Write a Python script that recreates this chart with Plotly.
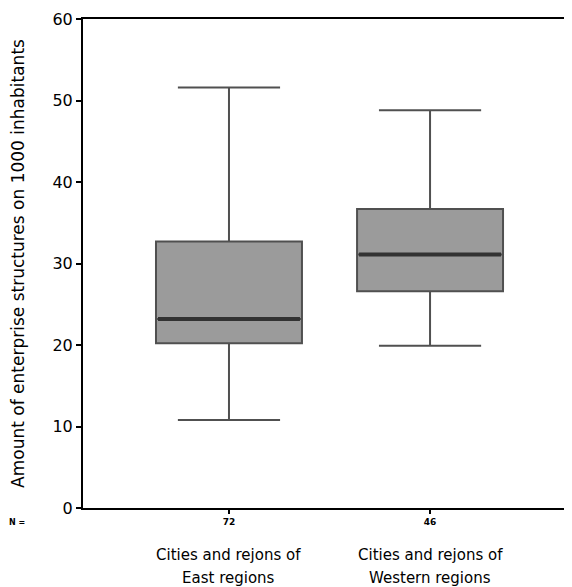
import plotly.graph_objects as go

positions = [0, 1]
n_labels = ["72", "46"]
categories = ["Cities and rejons of<br>East regions", "Cities and rejons of<br>Western regions"]
lower_whisker = [10.8, 19.9]
q1 = [20.2, 26.6]
median = [23.2, 31.1]
q3 = [32.7, 36.7]
upper_whisker = [51.6, 48.8]

box_width = 0.726
FONT = "DejaVu Sans"

fig = go.Figure()
fig.add_trace(go.Box(
    x=positions, q1=q1, median=median, q3=q3,
    lowerfence=lower_whisker, upperfence=upper_whisker,
    width=box_width, whiskerwidth=0.7,
    fillcolor="rgb(155,155,155)",
    line=dict(color="rgb(80,80,80)", width=2),
    boxpoints=False, showlegend=False, hoverinfo="skip",
))
for p, m in zip(positions, median):
    fig.add_trace(go.Scatter(
        x=[p - box_width / 2 + 0.01, p + box_width / 2 - 0.01], y=[m, m],
        mode="lines", line=dict(color="rgb(50,50,50)", width=4),
        showlegend=False, hoverinfo="skip",
    ))

line_y = [-0.096, -0.143]
for p, c in zip(positions, categories):
    for ly, part in zip(line_y, c.split("<br>")):
        fig.add_annotation(x=p, y=ly, xref="x", yref="paper", text=part,
                           showarrow=False, yanchor="middle", borderpad=0,
                           font=dict(family=FONT, size=15, color="black"))
fig.add_annotation(x=-0.155, y=-0.03, xref="paper", yref="paper", text="<b>N =</b>",
                   showarrow=False, xanchor="left", yanchor="middle",
                   font=dict(family=FONT, size=8, color="black"))

fig.update_layout(
    width=564, height=579,
    margin=dict(l=75, r=0, t=11, b=79, autoexpand=False),
    plot_bgcolor="white", paper_bgcolor="white",
    font=dict(family=FONT, color="black"),
    xaxis=dict(
        range=[-0.726, 1.706], tickmode="array", tickvals=positions,
        ticktext=["<b>%s</b>" % t for t in n_labels], automargin=False,
        tickfont=dict(size=9), showgrid=False, zeroline=False,
        showline=True, linecolor="black", linewidth=2, mirror=True,
        ticks="outside", ticklen=4, tickwidth=2, tickcolor="black",
    ),
    yaxis=dict(
        range=[0, 60], tickvals=[0, 10, 20, 30, 40, 50, 60], automargin=False,
        tickfont=dict(size=16), showgrid=False, zeroline=False,
        showline=True, linecolor="black", linewidth=2,
        ticks="outside", ticklen=5, tickwidth=2, tickcolor="black",
        title=dict(text="Amount of enterprise structures on 1000 inhabitants",
                   font=dict(size=17), standoff=30),
    ),
)

fig.write_html("out.html")
